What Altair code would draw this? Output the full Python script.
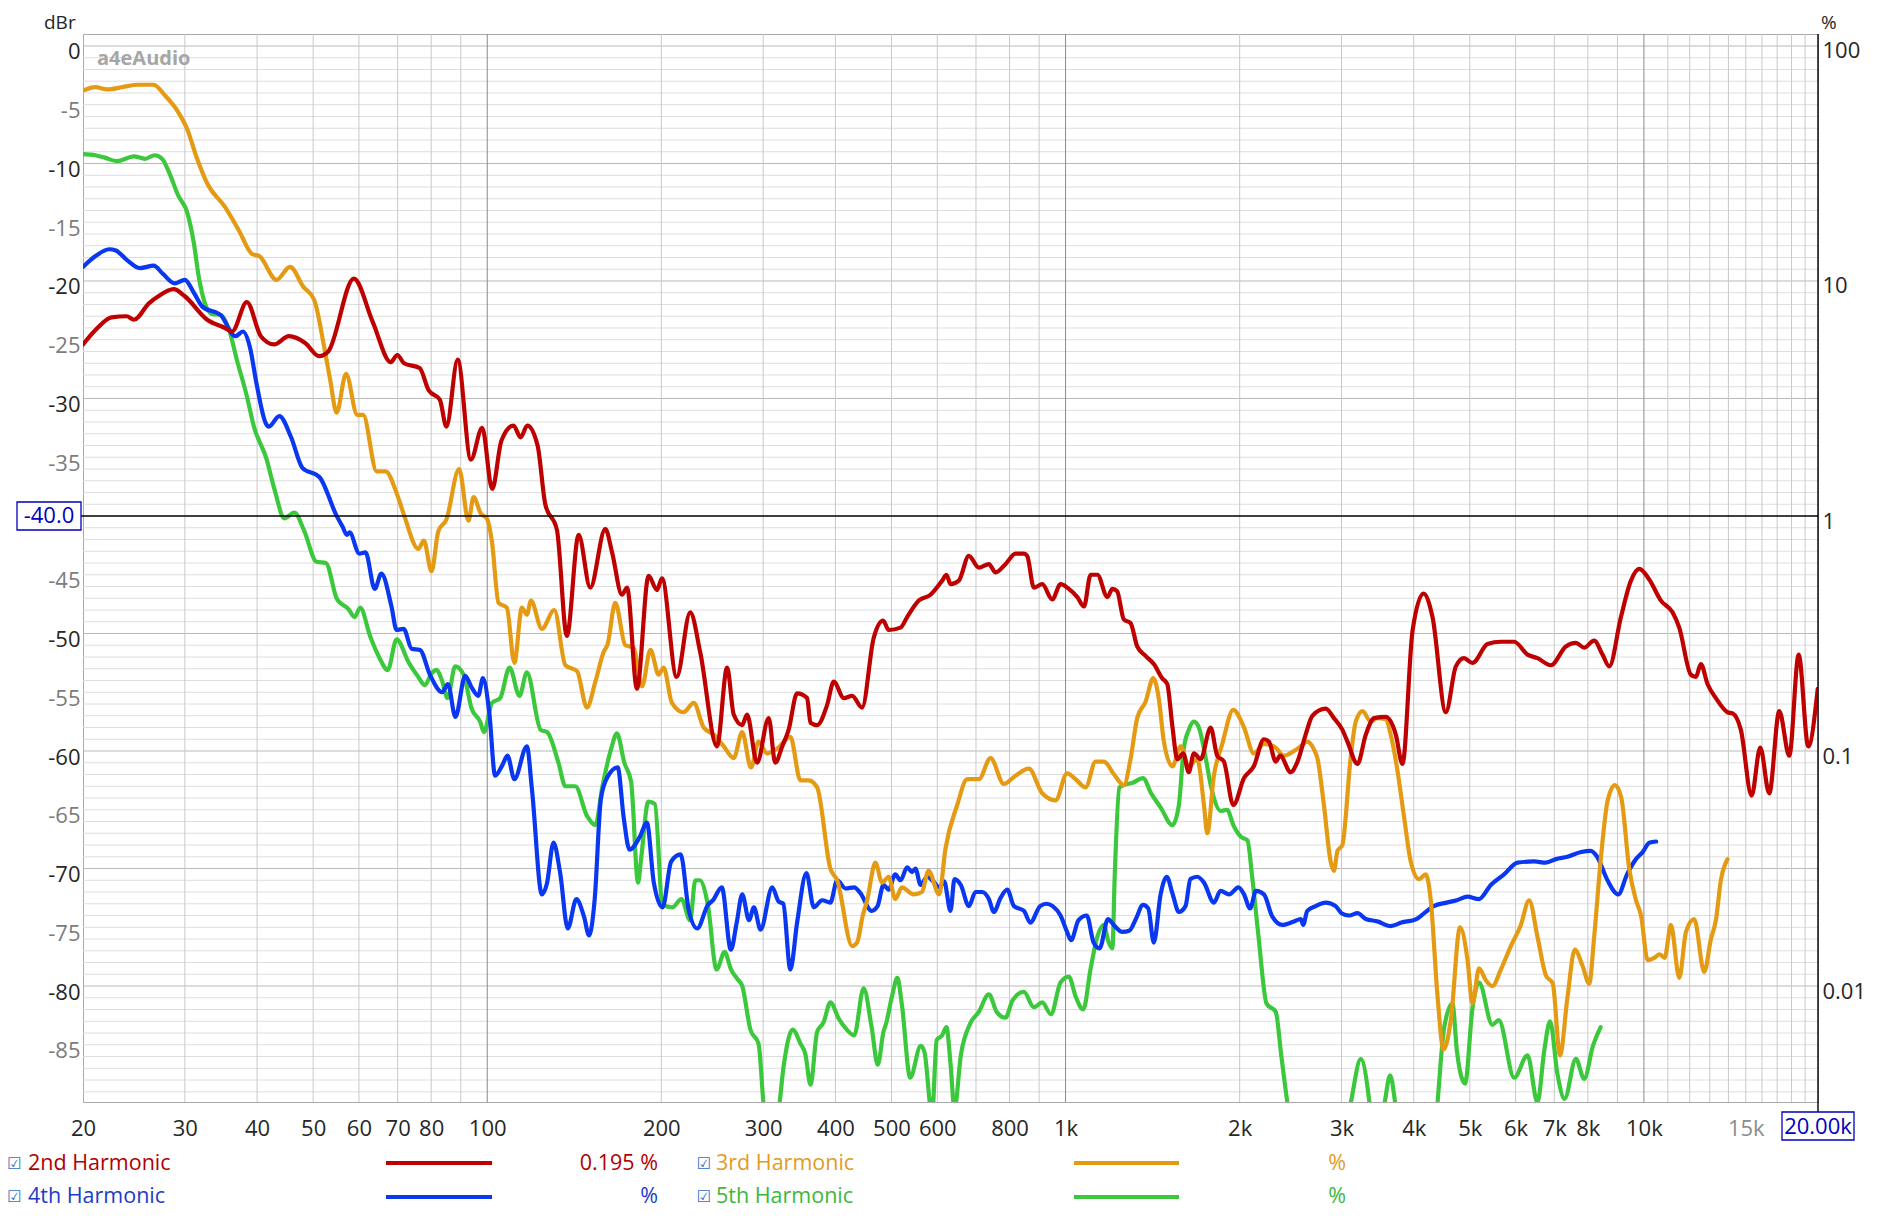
import altair as alt
import pandas as pd

# ---------------- data (frequency in Hz, level in dBr) ----------------
freq_2nd = [20.0, 21.0, 22.4, 23.8, 24.5, 26.0, 27.0, 28.7, 30.0, 32.8, 35.2, 36.2, 38.4, 40.6, 42.8,
            45.4, 48.5, 51.2, 53.1, 58.8, 63.4, 68.1, 69.9, 71.8, 76.4, 79.2, 82.8, 85.0, 88.9, 93.7,
            98.0, 102.0, 105.8, 111.0, 114.2, 117.3, 122.2, 126.0, 132.0, 137.3, 143.9, 150.7, 160.0,
            164.4, 171.0, 174.5, 181.5, 190.1, 196.6, 200.5, 212.6, 224.4, 233.5, 249.6, 259.9, 266.8,
            275.9, 281.3, 292.8, 306.7, 314.8, 323.7, 332.0, 343.4, 357.4, 362.2, 371.9, 386.9, 397.3,
            413.6, 427.6, 444.8, 465.7, 483.7, 494.4, 518.3, 532.2, 557.4, 584.0, 611.8, 622.3, 632.5,
            653.8, 680.4, 708.0, 736.8, 756.8, 787.0, 819.4, 847.0, 858.4, 881.4, 911.3, 948.4, 980.1,
            1013, 1048, 1076, 1105, 1135, 1181, 1205, 1228, 1261, 1295, 1330, 1375, 1421, 1469, 1499,
            1530, 1560, 1597, 1633, 1667, 1712, 1782, 1829, 1878, 1950, 2035, 2116, 2203, 2247, 2309,
            2350, 2450, 2518, 2601, 2672, 2817, 2911, 3011, 3072, 3197, 3305, 3416, 3578, 3724, 3824,
            3980, 4158, 4310, 4545, 4730, 4886, 5053, 5365, 5658, 5966, 6292, 6546, 6903, 7329, 7627,
            7884, 8204, 8483, 8711, 9126, 9497, 9817, 10215, 10700, 11209, 11511, 12055, 12300, 12545,
            12883, 13319, 13952, 14232, 14712, 15354, 15890, 16470, 17142, 17839, 18518, 19240, 19980]
db_2nd = [-25.4, -24.2, -23.1, -23.0, -23.3, -21.9, -21.3, -20.7, -21.3, -23.3, -24.0, -24.3, -21.8, -24.7, -25.4,
          -24.7, -25.3, -26.4, -26.0, -19.8, -23.5, -26.9, -26.3, -27.0, -27.4, -29.3, -30.1, -32.4, -26.7, -35.2,
          -32.5, -37.7, -33.6, -32.3, -33.3, -32.3, -34.0, -39.0, -41.2, -50.2, -41.6, -46.1, -41.1,
          -43.1, -46.7, -46.1, -54.7, -45.1, -46.3, -45.3, -53.7, -48.2, -51.6, -59.6, -52.9, -56.9,
          -57.8, -56.9, -61.0, -57.2, -61.0, -59.6, -58.2, -55.1, -55.5, -57.6, -57.8, -56.1, -54.1,
          -55.5, -55.3, -56.3, -50.4, -48.9, -49.7, -49.5, -48.6, -47.2, -46.7, -45.5, -45.0, -45.8,
          -45.5, -43.4, -44.4, -44.1, -44.8, -44.1, -43.2, -43.2, -43.4, -46.1, -45.8, -47.1, -45.8,
          -46.2, -46.9, -47.7, -45.0, -45.0, -46.9, -46.2, -46.4, -48.8, -49.1, -51.1, -51.9, -52.6, -53.8, -54.3,
          -57.9, -60.7, -60.2, -61.8, -60.2, -60.7, -58.0, -60.4, -60.9, -64.6, -62.3, -61.3, -59.0, -59.2, -60.9,
          -60.4, -61.8, -60.9, -58.6, -57.0, -56.4, -57.2, -58.2, -59.2, -61.1, -58.6, -57.2, -57.1, -58.6, -61.1,
          -49.8, -46.6, -48.6, -56.7, -52.8, -52.1, -52.5, -50.9, -50.7, -50.7, -51.8, -52.1, -52.7, -51.1, -50.8,
          -51.2, -50.6, -51.8, -52.8, -48.6, -45.5, -44.5, -45.4, -47.2, -48.2, -49.5, -53.5, -53.7, -52.6,
          -54.3, -55.5, -56.7, -56.8, -58.2, -63.8, -59.7, -63.6, -56.6, -60.4, -51.8, -59.6, -54.7]

freq_3rd = [20.0, 21.0, 22.0, 23.4, 24.9, 26.5, 27.7, 29.2, 30.3, 31.4, 32.8, 35.2, 37.2, 39.2, 40.4,
            43.2, 45.6, 48.1, 50.2, 52.2, 53.5, 54.9, 57.0, 59.6, 61.0, 64.4, 66.7, 70.0, 72.0, 76.0,
            77.7, 80.1, 82.3, 85.0, 89.4, 92.8, 94.7, 97.5, 99.8, 101.9, 104.6, 108.1, 111.4, 114.8,
            117.1, 119.0, 124.3, 130.6, 136.5, 143.0, 148.7, 153.8, 158.9, 161.5, 166.5, 173.3, 179.1,
            185.2, 191.5, 197.9, 201.8, 208.6, 218.5, 227.5, 236.7, 246.3, 256.4, 266.8, 275.9, 285.8,
            294.5, 304.7, 317.0, 334.3, 348.0, 359.7, 371.9, 392.0, 402.8, 427.6, 436.0, 446.0, 453.9,
            469.0, 481.7, 494.4, 507.6, 521.2, 546.0, 564.3, 579.5, 604.6, 619.9, 649.5, 676.0, 708.0,
            741.8, 782.0, 819.4, 864.0, 911.3, 961.0, 1006, 1041, 1083, 1127, 1165, 1213, 1261, 1295,
            1330, 1375, 1418, 1450, 1479, 1530, 1581, 1633, 1689, 1735, 1758, 1805, 1866, 1950, 2035,
            2116, 2203, 2293, 2386, 2483, 2551, 2618, 2690, 2725, 2797, 2873, 2911, 2952, 3010, 3111,
            3175, 3261, 3370, 3460, 3578, 3649, 3747, 3848, 3952, 4085, 4196, 4280, 4396, 4503, 4636,
            4809, 4955, 5053, 5187, 5327, 5470, 5658, 5887, 6127, 6332, 6546, 6770, 6958, 7160, 7375,
            7595, 7834, 8043, 8204, 8430, 8650, 8907, 9141, 9431, 9689, 9886, 10151, 10423, 10640,
            10862, 11134, 11511, 11823, 12218, 12714, 13059, 13319, 13585, 13952]
db_3rd = [-3.8, -3.5, -3.7, -3.5, -3.3, -3.3, -4.2, -5.6, -7.1, -9.4, -11.7, -13.7, -15.7, -17.7, -17.9,
          -19.9, -18.8, -20.5, -21.6, -25.5, -28.4, -31.2, -27.9, -31.4, -31.4, -36.2, -36.2, -38.3, -40.1, -42.8,
          -42.1, -44.7, -41.3, -40.3, -36.0, -40.4, -38.4, -39.8, -40.2, -42.2, -47.4, -47.8, -52.5, -47.8,
          -48.4, -47.2, -49.6, -48.0, -52.7, -53.2, -56.3, -54.1, -51.6, -50.9, -47.4, -51.0, -51.2,
          -54.5, -51.4, -53.5, -52.9, -55.9, -56.7, -55.9, -58.0, -58.6, -59.6, -60.6, -58.4, -61.4,
          -59.2, -60.2, -59.8, -58.8, -62.5, -62.5, -63.1, -70.0, -71.0, -76.6, -76.3, -74.0, -72.7,
          -69.5, -71.2, -70.7, -72.6, -71.6, -72.2, -72.0, -70.2, -72.2, -68.3, -64.6, -62.4, -62.4,
          -60.6, -62.8, -62.1, -61.5, -63.6, -64.2, -61.9, -62.4, -63.1, -60.9, -60.9, -62.0, -62.9, -60.7,
          -57.2, -55.8, -53.8, -55.6, -59.2, -61.3, -59.6, -61.3, -60.7, -64.6, -67.0, -62.1, -59.4, -56.5, -58.0,
          -60.2, -59.4, -59.6, -60.4, -60.0, -59.6, -59.2, -59.9, -60.6, -64.6, -69.4, -70.2, -68.5, -68.0, -60.6,
          -57.5, -56.6, -57.5, -57.2, -57.3, -58.6, -61.6, -65.6, -69.4, -70.9, -70.5, -72.7, -80.8, -85.4, -82.9,
          -75.0, -77.8, -81.5, -78.5, -79.5, -80.0, -78.6, -76.6, -74.8, -72.7, -75.8, -79.1, -79.8, -85.9, -81.0,
          -76.9, -78.3, -79.8, -75.8, -69.0, -64.3, -62.9, -64.0, -70.0, -72.7, -74.0, -77.8, -77.6, -77.3,
          -77.6, -74.8, -79.3, -75.4, -74.3, -78.8, -76.0, -74.4, -71.0, -69.2]

freq_4th = [20.0, 21.0, 22.2, 22.8, 23.8, 25.1, 26.5, 27.5, 28.8, 30.0, 31.1, 32.2, 34.6, 36.7, 37.8,
            38.9, 39.9, 41.4, 41.9, 43.7, 45.8, 47.9, 51.3, 54.8, 56.2, 57.2, 57.8, 60.1, 61.6, 63.9,
            65.6, 68.3, 69.7, 71.7, 74.0, 76.5, 79.6, 83.6, 85.5, 88.1, 91.6, 94.0, 96.5, 98.3, 100.8,
            103.2, 106.2, 108.4, 111.4, 117.1, 119.5, 124.3, 126.8, 130.2, 133.7, 137.8, 142.6, 147.0,
            150.0, 153.4, 157.2, 161.5, 168.1, 172.2, 176.2, 183.6, 188.8, 194.1, 201.0, 208.0, 216.0,
            223.0, 230.7, 240.7, 245.7, 254.4, 263.8, 270.0, 276.0, 283.6, 289.1, 296.9, 311.0, 319.0,
            325.0, 334.3, 343.4, 356.4, 367.0, 379.4, 392.0, 402.8, 416.7, 431.0, 441.8, 462.0, 473.0,
            484.3, 494.4, 507.6, 518.3, 532.2, 543.0, 550.0, 561.6, 576.0, 590.5, 605.4, 616.7, 632.5,
            642.6, 659.0, 680.4, 698.7, 717.2, 736.8, 751.7, 772.0, 792.8, 814.2, 847.0, 869.0, 903.6,
            926.7, 950.0, 980.1, 1006, 1022, 1053, 1088, 1118, 1145, 1184, 1216, 1253, 1288, 1323, 1361,
            1390, 1421, 1460, 1496, 1530, 1570, 1612, 1644, 1689, 1735, 1805, 1853, 1918, 1990, 2035,
            2085, 2134, 2203, 2278, 2370, 2483, 2551, 2575, 2618, 2708, 2817, 2931, 3000, 3092, 3197,
            3305, 3460, 3649, 3809, 4041, 4170, 4330, 4561, 4749, 4955, 5187, 5437, 5730, 6045, 6460,
            6770, 7045, 7375, 7790, 8088, 8300, 8650, 9030, 9350, 9689, 9952, 10215, 10500]
db_4th = [-18.8, -17.9, -17.3, -17.4, -18.2, -18.9, -18.7, -19.4, -20.2, -19.9, -21.0, -22.2, -22.9, -24.7, -24.3,
          -25.7, -28.7, -32.1, -32.4, -31.5, -33.3, -35.9, -36.7, -39.9, -40.9, -41.6, -41.4, -43.2, -43.1, -46.2,
          -44.9, -47.7, -49.7, -49.6, -51.3, -51.4, -53.5, -55.0, -54.3, -57.1, -53.6, -54.6, -55.3, -53.8, -56.7,
          -62.1, -61.2, -60.4, -62.4, -59.6, -63.3, -72.2, -71.3, -67.8, -70.4, -75.1, -72.6, -74.1,
          -75.7, -72.6, -64.1, -62.2, -61.4, -65.7, -68.4, -67.3, -66.1, -71.2, -73.3, -69.4, -68.8,
          -73.5, -75.1, -73.1, -72.7, -71.6, -76.9, -74.6, -72.2, -74.4, -73.3, -75.2, -71.6, -72.8,
          -73.0, -78.6, -74.6, -70.4, -73.3, -72.7, -72.9, -71.0, -71.7, -71.6, -72.1, -73.6, -73.2,
          -71.4, -71.8, -70.5, -71.0, -69.9, -70.3, -70.0, -71.4, -70.7, -71.1, -71.6, -71.1, -73.6,
          -70.9, -71.4, -73.2, -72.0, -72.0, -72.6, -73.7, -72.5, -71.8, -73.2, -73.6, -74.6, -73.2,
          -73.0, -73.2, -74.0, -75.4, -76.1, -74.4, -74.0, -76.3, -76.8, -74.3, -74.9, -75.4, -75.3, -74.3, -73.1,
          -73.4, -76.3, -72.2, -70.7, -72.1, -73.7, -73.2, -70.9, -70.7, -71.2, -72.9, -71.9, -72.2, -71.6, -72.2,
          -73.4, -71.9, -72.2, -74.1, -74.8, -74.5, -74.3, -74.8, -73.6, -73.2, -72.9, -73.2, -73.8, -74.0, -73.8,
          -74.3, -74.5, -74.9, -74.6, -74.3, -73.8, -73.2, -72.9, -72.7, -72.4, -72.6, -71.4, -70.5, -69.5, -69.4,
          -69.5, -69.2, -69.0, -68.6, -68.5, -69.0, -71.0, -72.2, -70.5, -69.2, -68.6, -67.8, -67.7]

freq_5th = [20.0, 21.0, 21.8, 22.9, 24.5, 25.6, 26.6, 27.4, 28.2, 29.2, 30.3, 31.1, 31.7, 32.5, 33.4,
            34.6, 35.9, 36.9, 38.4, 39.5, 41.5, 42.9, 44.6, 46.4, 48.2, 50.7, 52.6, 55.0, 57.5, 59.0,
            60.3, 62.8, 65.0, 67.3, 69.7, 73.2, 76.0, 78.0, 80.1, 81.8, 83.5, 85.4, 88.0, 91.0, 94.0,
            97.2, 98.7, 101.9, 105.3, 109.3, 113.7, 117.1, 123.7, 127.0, 132.8, 136.5, 142.0, 148.7,
            153.8, 158.2, 163.8, 167.6, 172.6, 177.3, 182.3, 184.5, 189.9, 194.9, 201.0, 208.9, 216.7,
            224.3, 229.0, 233.0, 240.7, 249.2, 257.3, 264.0, 270.7, 276.0, 285.1, 294.5, 302.0, 310.0,
            319.0, 325.3, 337.4, 348.0, 354.9, 362.2, 371.9, 381.5, 392.0, 405.5, 416.7, 431.0, 447.5,
            462.0, 473.4, 484.3, 490.0, 500.9, 512.0, 521.2, 538.8, 561.6, 570.0, 587.7, 598.6, 611.8,
            622.3, 632.5, 642.6, 659.0, 684.0, 708.0, 736.8, 760.0, 787.0, 810.0, 847.0, 881.4, 911.3,
            943.4, 980.1, 1013, 1041, 1073, 1105, 1135, 1165, 1184, 1205, 1216, 1239, 1261, 1306, 1361,
            1406, 1460, 1530, 1570, 1600, 1633, 1667, 1700, 1747, 1782, 1805, 1853, 1903, 1950, 2010,
            2063, 2102, 2156, 2226, 2309, 2360, 2418, 2550, 2800, 3050, 3111, 3240, 3355, 3420, 3560,
            3640, 3730, 3900, 4300, 4396, 4516, 4667, 4749, 4906, 5053, 5187, 5470, 5612, 5966, 6292,
            6546, 6725, 6883, 7088, 7292, 7627, 7884, 8164, 8417]
db_5th = [-9.2, -9.3, -9.5, -9.8, -9.4, -9.6, -9.3, -9.6, -10.8, -12.7, -14.2, -16.8, -19.6, -21.9, -22.8,
          -22.9, -24.4, -26.7, -29.8, -32.4, -35.1, -37.8, -40.2, -39.7, -41.2, -43.9, -44.0, -47.1, -47.9, -48.6,
          -47.8, -50.3, -52.0, -53.1, -50.5, -52.5, -53.7, -54.4, -53.4, -53.1, -54.0, -55.5, -52.8, -53.5, -56.4,
          -57.5, -58.4, -55.9, -55.5, -52.9, -55.3, -53.3, -58.2, -58.4, -61.0, -63.0, -63.0, -65.5,
          -66.3, -63.0, -59.8, -58.5, -61.0, -62.6, -71.2, -69.2, -64.3, -64.5, -73.1, -73.3, -72.6,
          -74.4, -71.0, -71.0, -73.1, -78.6, -77.1, -78.6, -79.4, -80.0, -83.7, -84.9, -91.0, -92.0,
          -90.5, -86.9, -83.7, -84.9, -85.8, -88.4, -83.9, -83.1, -81.4, -82.8, -83.6, -84.2, -80.2,
          -83.5, -86.7, -83.9, -83.1, -80.9, -79.3, -81.6, -87.8, -85.1, -85.6, -91.0, -84.6, -84.2,
          -83.5, -86.6, -90.5, -85.9, -83.2, -82.2, -80.7, -82.2, -82.7, -81.2, -80.5, -81.8, -81.4,
          -82.4, -79.7, -79.2, -80.9, -82.0, -78.5, -75.8, -74.8, -76.1, -76.8, -70.7, -63.1, -62.9, -62.7, -62.3,
          -63.6, -64.8, -66.3, -64.6, -59.9, -58.2, -57.5, -58.0, -60.6, -62.9, -64.0, -65.1, -65.0, -66.3, -67.3,
          -67.6, -70.7, -75.8, -81.5, -82.2, -85.9, -89.9, -96.0, -96.0, -92.0, -90.0, -86.2, -90.0, -94.0, -90.0,
          -87.6, -90.5, -96.0, -96.0, -90.0, -83.5, -81.5, -85.5, -88.3, -81.9, -79.7, -83.3, -82.9, -87.8, -85.9,
          -89.9, -85.5, -83.0, -87.5, -89.6, -86.2, -87.9, -85.1, -83.5]

series_names = ["2nd Harmonic", "3rd Harmonic", "4th Harmonic", "5th Harmonic"]
series_colors = ["#BE0000", "#E59A14", "#0A38F0", "#3CC83C"]
legend_text_colors = ["#B00000", "#E39A1E", "#1A3CC8", "#3CB83C"]
legend_values = ["0.195 %", "%", "%", "%"]

x_tick_values = [20, 30, 40, 50, 60, 70, 80, 100, 200, 300, 400, 500, 600, 800,
                 1000, 2000, 3000, 4000, 5000, 6000, 7000, 8000, 10000, 15000]
y_left_ticks = [0, -5, -10, -15, -20, -25, -30, -35, -45, -50, -55, -60, -65, -70, -75, -80, -85]
y_right_ticks = [0, -20, -40, -60, -80]
y_right_labels = ["100", "10", "1", "0.1", "0.01"]

grid_x_minor = [30, 40, 50, 60, 70, 80, 90, 200, 300, 400, 500, 600, 700, 800, 900,
                2000, 3000, 4000, 5000, 6000, 7000, 8000, 9000,
                11000, 12000, 13000, 14000, 15000, 16000, 17000, 18000, 19000]
grid_x_major = [100, 1000, 10000]
grid_y_fine = [v for v in range(-89, 1) if v % 10 != 0]
grid_y_major = [0, -10, -20, -30, -50, -60, -70, -80]

# ---------------- build ----------------
rows = []
for name, fs, ds in zip(series_names, [freq_2nd, freq_3rd, freq_4th, freq_5th],
                        [db_2nd, db_3rd, db_4th, db_5th]):
    for f, d in zip(fs, ds):
        rows.append({"series": name, "freq": f, "db": d})
df = pd.DataFrame(rows)

W, H = 1735, 1068
FONT = "Open Sans"
x_scale = alt.Scale(type="log", domain=[20, 20000], nice=False)
y_scale = alt.Scale(domain=[-89.87, 1.02], nice=False, zero=False)
one = pd.DataFrame({"k": [0]})


def vrules(vals, color):
    return alt.Chart(pd.DataFrame({"f": vals})).mark_rule(color=color, strokeWidth=1).encode(
        x=alt.X("f:Q", scale=x_scale, axis=None))


def hrules(vals, color):
    return alt.Chart(pd.DataFrame({"d": vals})).mark_rule(color=color, strokeWidth=1).encode(
        y=alt.Y("d:Q", scale=y_scale, axis=None))


def txt(s, x, y, color, size=22, align="left", baseline="middle", font=FONT, weight="normal"):
    return alt.Chart(one).mark_text(text=s, align=align, baseline=baseline, fontSize=size,
                                    font=font, color=color, fontWeight=weight).encode(
        x=alt.value(x), y=alt.value(y))


def seg(x1, x2, y, color, width):
    return alt.Chart(one).mark_rule(color=color, strokeWidth=width).encode(
        x=alt.value(x1), x2=alt.value(x2), y=alt.value(y))


def box(x1, x2, y1, y2, color):
    return alt.Chart(one).mark_rect(fill="white", stroke=color, strokeWidth=1.3).encode(
        x=alt.value(x1), x2=alt.value(x2), y=alt.value(y1), y2=alt.value(y2))


x_label_expr = "datum.value >= 1000 ? (datum.value / 1000) + 'k' : '' + datum.value"
right_expr = "''"
for v, lab in zip(reversed(y_right_ticks), reversed(y_right_labels)):
    right_expr = f"datum.value == {v} ? '{lab}' : ({right_expr})"

x_axis = alt.Axis(orient="bottom", values=x_tick_values, labelExpr=x_label_expr, labelFont=FONT,
                  labelFontSize=22,
                  labelColor={"condition": {"test": "datum.value == 15000", "value": "#8c8c8c"},
                              "value": "#262626"},
                  ticks=False, tickSize=0, domain=False, grid=False, labelPadding=16,
                  labelOverlap=False, labelFlush=False, title=None)
yl_axis = alt.Axis(orient="left", values=y_left_ticks, labelExpr="'' + datum.value", labelFont=FONT,
                   labelFontSize=22,
                   labelColor={"condition": {"test": "datum.value % 10 == 0", "value": "#262626"},
                               "value": "#7c7c7c"},
                   ticks=False, tickSize=0, domain=False, grid=False, labelPadding=3, labelOffset=6,
                   labelOverlap=False, labelFlush=False, title=None)
yr_axis = alt.Axis(orient="right", values=y_right_ticks, labelExpr=right_expr, labelFont=FONT,
                   labelFontSize=22, labelColor="#262626", ticks=False, tickSize=0, domain=False,
                   grid=False, labelPadding=4, labelOffset=5, labelOverlap=False, labelFlush=False,
                   title=None)

axis_left = alt.Chart(df).mark_point(opacity=0).encode(
    x=alt.X("freq:Q", scale=x_scale, axis=x_axis),
    y=alt.Y("db:Q", scale=y_scale, axis=yl_axis))
axis_right = alt.Chart(df).mark_point(opacity=0).encode(
    x=alt.X("freq:Q", scale=x_scale, axis=None),
    y=alt.Y("db:Q", scale=y_scale, axis=yr_axis))


def series_layer(name, color):
    return alt.Chart(df).transform_filter(alt.datum.series == name).mark_line(
        color=color, strokeWidth=4.2, interpolate="monotone", clip=True,
        strokeJoin="round", strokeCap="round").encode(
        x=alt.X("freq:Q", scale=x_scale, axis=None),
        y=alt.Y("db:Q", scale=y_scale, axis=None))


layers = [
    axis_left,
    axis_right,
    hrules(grid_y_fine, "#dedede"),
    hrules(grid_y_major, "#b9b9b9"),
    vrules(grid_x_minor, "#c9c9c9"),
    vrules(grid_x_major, "#8a8a8a"),
]
# curves, 2nd harmonic drawn last (on top)
for name, color in reversed(list(zip(series_names, series_colors))):
    layers.append(series_layer(name, color))

# -40 reference line and boxed label
layers.append(alt.Chart(one).mark_rule(color="black", strokeWidth=1.3).encode(
    y=alt.YDatum(-40, scale=y_scale, axis=None), x=alt.value(-2), x2=alt.value(W)))
layers.append(box(-66, -2, 468, 496, "#0000C0"))
layers.append(alt.Chart(one).mark_text(text="-40.0", align="center", baseline="middle", fontSize=22,
                                       font=FONT, color="#0000C0").encode(
    x=alt.value(-34), y=alt.YDatum(-40, scale=y_scale, axis=None)))
# right-hand (black) axis line and 20.00k cursor box
layers.append(alt.Chart(one).mark_rule(color="black", strokeWidth=1.4).encode(
    x=alt.value(W), y=alt.value(0), y2=alt.value(1078)))
layers.append(box(1699, 1771, 1078, 1106, "#0000C0"))
layers.append(txt("20.00k", W, 1093, "#0000C0", align="center"))

# titles and watermark (kept just inside the top edge of the drawing)
layers.append(txt("dBr", -39, -5, "#262626", size=19, baseline="alphabetic"))
layers.append(txt("%", 1738, -5, "#262626", size=19, baseline="alphabetic"))
layers.append(txt("a4eAudio", 14, 31, "#a6a6a6", size=20, baseline="alphabetic", weight="bold"))

# legend
legend_cols = [(-68.5, -55, 303, 409, 575), (621, 633, 991, 1096, 1263)]
legend_rows = [(1130, 1129), (1163, 1163)]
for i, name in enumerate(series_names):
    cbx, tx, lx1, lx2, vx = legend_cols[i % 2]
    ty, ly = legend_rows[i // 2]
    layers.append(txt("\u2611", cbx, ty, "#2f6fc8", size=16, align="center", font="DejaVu Sans"))
    layers.append(txt(name, tx, ty, legend_text_colors[i], size=21.5))
    layers.append(seg(lx1, lx2, ly, series_colors[i], 4))
    layers.append(txt(legend_values[i], vx, ty, legend_text_colors[i], size=21.5, align="right"))

chart = alt.layer(*layers).resolve_axis(x="independent", y="independent").properties(
    width=W, height=H,
    autosize=alt.AutoSizeParams(type="none"),
    padding={"left": 75, "top": 26, "right": 64, "bottom": 109},
    background="white",
).configure_view(stroke="#a9a9a9", strokeWidth=1)

chart.save("out.html", embed_options={"renderer": "svg", "actions": False})
